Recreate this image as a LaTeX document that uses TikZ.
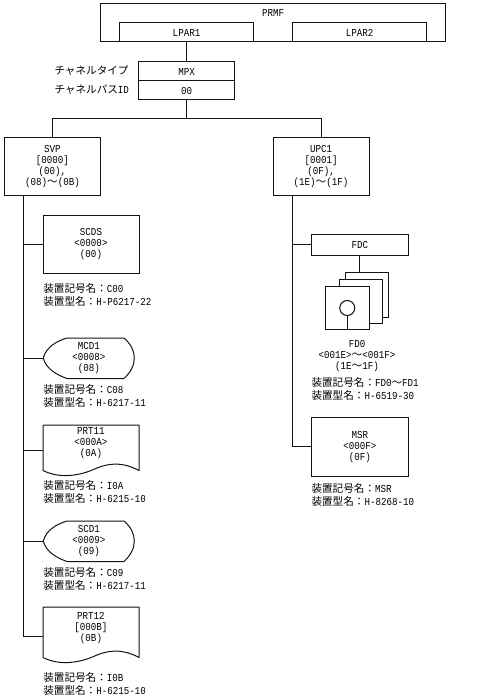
\documentclass[tikz,border=0pt]{standalone}
\usepackage{fontspec}
\setmainfont[FakeStretch=0.86]{Liberation Mono}
\newfontfamily\jpf{Noto Sans CJK JP}
\newcommand{\J}[1]{{\jpf\fontsize{10.6pt}{11pt}\selectfont #1}}
\tikzset{
  base/.style={inner sep=0pt,outer sep=0pt,align=center,font=\fontsize{10.66pt}{11pt}\selectfont},
  box/.style={base,draw=black!92,line width=1pt},
  bare/.style={base},
  lab/.style={inner sep=0pt,outer sep=0pt,align=left,anchor=west,font=\fontsize{10.66pt}{13pt}\selectfont},
  conn/.style={draw=black!92,line width=1pt},
  shapeline/.style={draw=black!92,line width=1pt,line join=round,fill=white},
}
\begin{document}
\begin{tikzpicture}[x=1pt,y=-1pt]
\path[fill=white,use as bounding box] (0,0) rectangle (479,700);
% top
\node[box,minimum width=345pt,minimum height=38pt] (prmf) at (273,23) {};
\node[bare] (prmft) at (273,13) {PRMF};
\node[box,minimum width=134pt,minimum height=19pt] (lpar1) at (186.5,32.5) {LPAR1};
\node[box,minimum width=134pt,minimum height=19pt] (lpar2) at (359.5,32.5) {LPAR2};
\node[box,minimum width=96pt,minimum height=19pt] (mpx) at (186.5,71.5) {MPX};
\node[box,minimum width=96pt,minimum height=19pt] (ch) at (186.5,90.5) {00};
\node[lab] (t1) at (54.5,71) {\J{チャネルタイプ}};
\node[lab] (t2) at (54.5,90) {\J{チャネルパス}ID};
\coordinate (bus) at (186.5,119);
% controllers
\node[box,minimum width=96pt,minimum height=58pt] (svp) at (52.5,167) {SVP\\{}[0000]\\(00),\\(08)\J{～}(0B)};
\node[box,minimum width=96pt,minimum height=58pt] (upc) at (321,167) {UPC1\\{}[0001]\\(0F),\\(1E)\J{～}(1F)};
\draw[conn] (lpar1.south) -- (mpx.north);
\draw[conn] (ch.south) -- (bus);
\draw[conn] (bus) -| (svp.north);
\draw[conn] (bus) -| (upc.north);
\coordinate (svpt) at (23.5,196);
\coordinate (upct) at (292.5,196);
% left column
\node[box,minimum width=96pt,minimum height=58pt] (scds) at (91,244.5) {SCDS\\<0000>\\(00)};
\node[lab] (l1) at (43.3,294.5) {\J{装置記号名：}C00\\\J{装置型名：}H-P6217-22};
% MCD1
\path[shapeline] (43.3,358) .. controls (46,347) and (57,341) .. (67,338) -- (124,338) .. controls (131,344) and (134.3,351) .. (134.3,358) .. controls (134.3,365) and (131,372) .. (124,378.5) -- (67,378.5) .. controls (57,375) and (46,369) .. (43.3,358) -- cycle;
\node[bare,minimum width=91pt,minimum height=40pt] (mcd) at (88.8,358) {MCD1\\<0008>\\(08)};
\node[lab] (l2) at (43.3,395.5) {\J{装置記号名：}C08\\\J{装置型名：}H-6217-11};
% PRT11
\path[shapeline] (43,425) -- (139,425) -- (139,470.5) .. controls (125,463) and (112,462) .. (97,468) .. controls (80,476) and (60,479) .. (43,470.5) -- cycle;
\node[bare] (prt11) at (91,443) {PRT11\\<000A>\\(0A)};
\coordinate (prt11p) at (43,450);
\node[lab] (l3) at (43.3,491.5) {\J{装置記号名：}I0A\\\J{装置型名：}H-6215-10};
% SCD1
\path[shapeline] (43.3,541) .. controls (46,530) and (57,524) .. (67,521) -- (124,521) .. controls (131,527) and (134.3,534) .. (134.3,541) .. controls (134.3,548) and (131,555) .. (124,561.5) -- (67,561.5) .. controls (57,558) and (46,552) .. (43.3,541) -- cycle;
\node[bare,minimum width=91pt,minimum height=40pt] (scd) at (88.8,541) {SCD1\\<0009>\\(09)};
\node[lab] (l4) at (43.3,578.5) {\J{装置記号名：}C09\\\J{装置型名：}H-6217-11};
% PRT12
\path[shapeline] (43,607) -- (139,607) -- (139,657.5) .. controls (125,650) and (112,649) .. (97,655) .. controls (80,663) and (60,666) .. (43,657.5) -- cycle;
\node[bare] (prt12) at (91,628) {PRT12\\{}[000B]\\(0B)};
\coordinate (prt12p) at (43,636);
\node[lab] (l5) at (43.3,683.5) {\J{装置記号名：}I0B\\\J{装置型名：}H-6215-10};
% left trunk
\draw[conn] (svpt) |- (prt12p);
\draw[conn] (svpt |- scds.west) -- (scds.west);
\draw[conn] (svpt |- mcd.west) -- (mcd.west);
\draw[conn] (svpt |- prt11p) -- (prt11p);
\draw[conn] (svpt |- scd.west) -- (scd.west);
% right column
\node[box,minimum width=96.5pt,minimum height=20.5pt] (fdc) at (359.75,244.75) {FDC};
\node[box,fill=white,minimum width=43pt,minimum height=45pt] (fd3) at (367,294.5) {};
\node[box,fill=white,minimum width=43pt,minimum height=44pt] (fd2) at (360.5,301.5) {};
\node[box,fill=white,minimum width=43.5pt,minimum height=43.5pt] (fd1) at (347.25,308) {};
\node[box,circle,minimum size=15pt] (disc) at (347.25,308) {};
\draw[conn] (disc.south) -- (fd1.south);
\draw[conn] (fdc.south) -- (fdc.south |- fd3.north);
\node[bare] (fd0) at (357,356) {FD0\\<001E>\J{～}<001F>\\(1E\J{～}1F)};
\node[lab] (l6) at (311.5,388.5) {\J{装置記号名：}FD0\J{～}FD1\\\J{装置型名：}H-6519-30};
\node[box,minimum width=96.5pt,minimum height=58.5pt] (msr) at (359.75,446.75) {MSR\\<000F>\\(0F)};
\node[lab] (l7) at (311.5,494.5) {\J{装置記号名：}MSR\\\J{装置型名：}H-8268-10};
\draw[conn] (upct) |- (msr.west);
\draw[conn] (upct |- fdc.west) -- (fdc.west);
\end{tikzpicture}
\end{document}
